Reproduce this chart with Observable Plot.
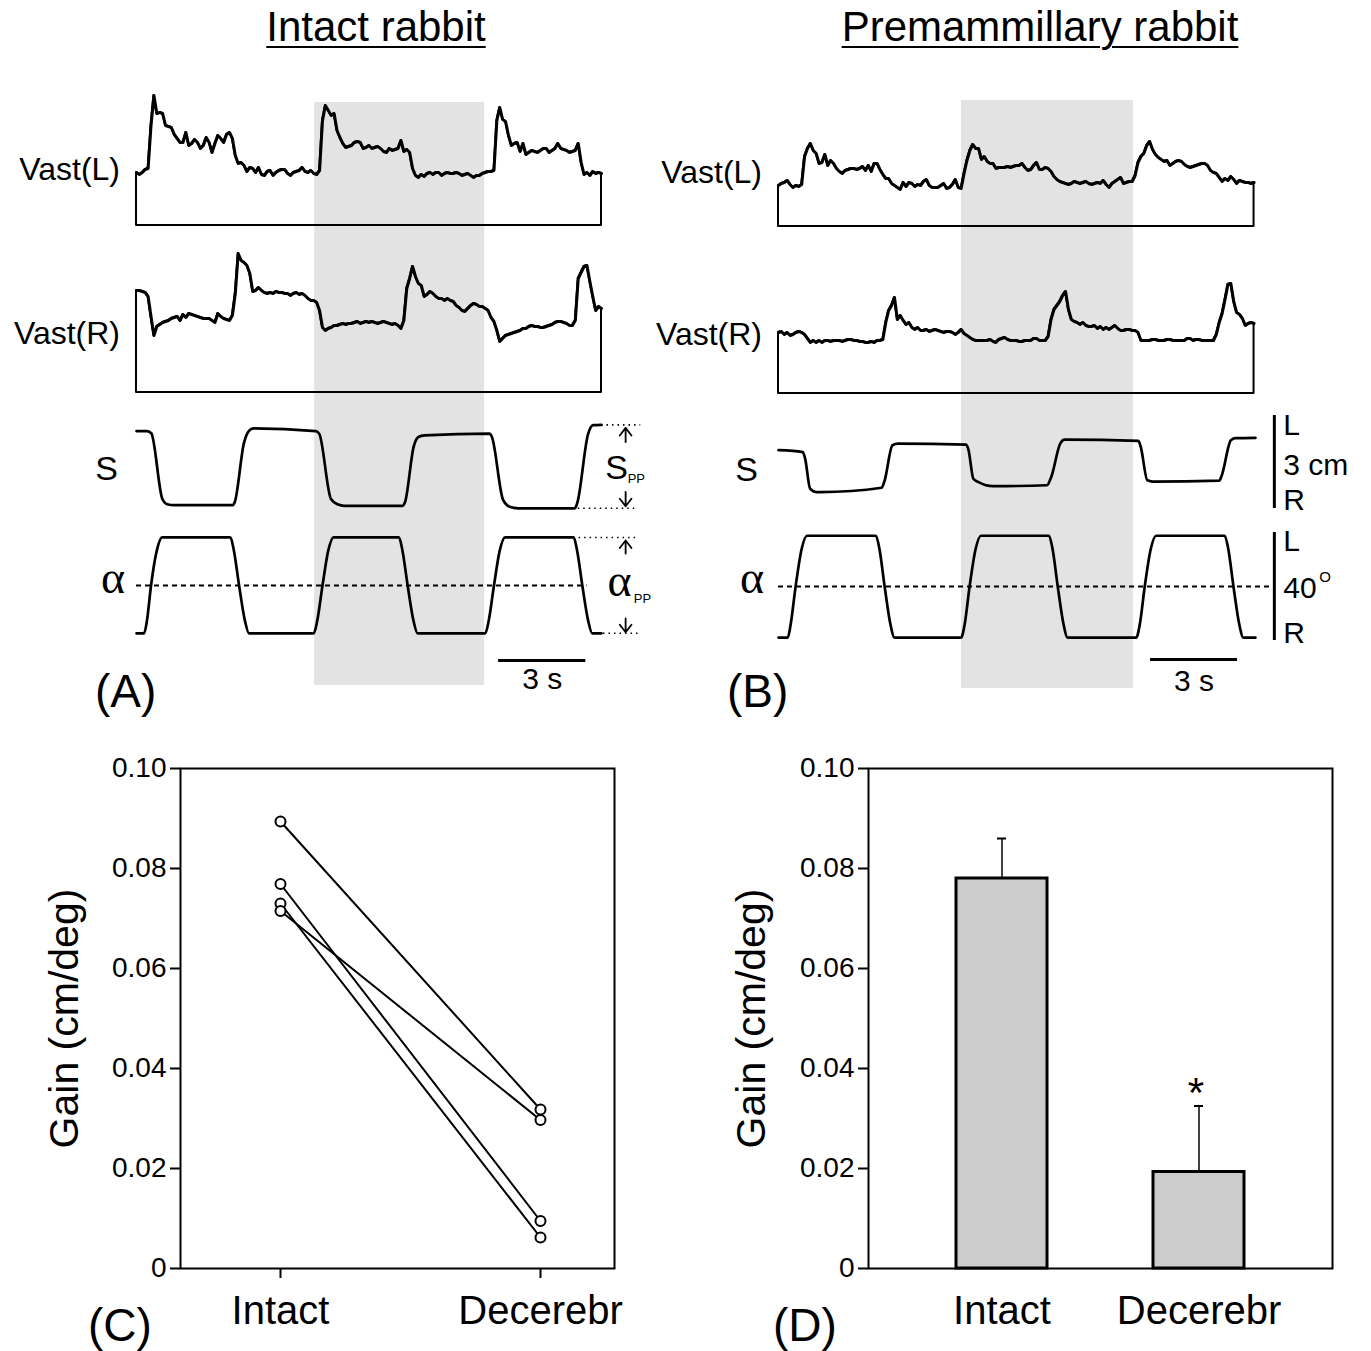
<!DOCTYPE html>
<html>
<head>
<meta charset="utf-8">
<script src="https://cdn.jsdelivr.net/npm/d3@7"></script>
<script src="https://cdn.jsdelivr.net/npm/@observablehq/plot@0.6"></script>
<style>
html, body { margin: 0; padding: 0; background: #fff; }
#fig { position: relative; width: 1371px; height: 1351px; background: #fff; overflow: hidden;
       font-family: "Liberation Sans", Arial, sans-serif; }
#fig svg { position: absolute; overflow: visible; }
.lbl { position: absolute; line-height: 1; white-space: nowrap; color: #000; }
.pcd g[aria-label^="x-axis"] text { font-size: 40px; }
.pcd g[aria-label$="axis tick"], .pcd g[aria-label$="axis tick"] path { stroke-width: 2px; }
.pcd g[aria-label^="y-axis"] line, .pcd g[aria-label^="x-axis"] line { stroke-width: 2px; }
</style>
</head>
<body>
<div id="fig"></div>
<script>
// ---------------- DATA ----------------
const sampleInterval = 0.1; // s between EMG samples

// Panel A (intact rabbit) — EMG envelopes (arbitrary units), one sample every 0.1 s
const vastL_A = [53,51,53,56,57,100,130,112,113,112, 100,99,98,91,87,83,83,93,80,82,
  86,83,77,80,88,83,73,82,90,87, 83,91,93,87,70,62,63,60,54,58,
  57,53,58,51,50,54,55,50,53,55, 56,56,52,50,53,54,55,58,54,53,
  55,52,51,55,105,120,115,110,112,95, 88,82,78,79,80,83,84,83,77,78,
  80,77,78,79,77,74,73,77,75,76, 77,85,74,76,73,57,50,48,51,49,
  52,53,51,53,53,50,52,53,52,52, 53,52,50,51,52,50,48,50,50,52,
  53,54,54,55,105,118,106,104,90,80, 82,83,74,82,71,73,75,74,73,75,
  77,77,73,75,77,82,77,76,75,73, 74,75,82,63,51,53,50,54,52,53, 52];
const vastR_A = [102,102,101,100,96,76,57,66,68,70, 71,72,74,75,76,72,78,75,79,78,
  77,76,75,74,74,74,72,70,79,76, 74,73,72,77,99,139,132,130,127,119,
  101,102,105,102,100,99,100,99,101,100, 100,99,99,97,99,100,98,99,97,94,
  92,92,90,82,65,62,64,65,67,67, 68,69,68,69,69,70,71,69,70,71,
  70,71,70,69,70,71,70,69,68,69, 67,64,72,104,114,126,116,109,107,96,
  98,101,99,96,94,94,92,94,92,91, 87,85,82,81,84,87,89,88,86,86,
  84,82,75,71,62,51,54,57,58,59, 60,61,62,64,64,66,67,66,66,65,
  65,66,67,68,70,71,71,70,69,67, 67,72,114,120,126,127,111,96,82,86, 84];
// Panel A — platform displacement S (cm) and tilt alpha (deg), breakpoints
const sA_time = [0,0.37,0.51,0.89,1.06,1.29,3.30,3.38,3.70,3.87,4.02,6.17,6.29,6.69,6.92,7.15,
  9.16,9.24,9.54,9.70,9.91,12.15,12.23,12.61,12.84,13.13,15.08,15.16,15.54,15.71,16.0];
const sA_cm = [1.19,1.19,1.12,-1.0,-1.17,-1.20,-1.20,-1.1,0.82,1.2,1.28,1.19,1.1,-1.0,-1.17,-1.22,
  -1.22,-1.1,0.7,1.0,1.05,1.11,1.0,-1.02,-1.25,-1.30,-1.30,-1.15,1.1,1.38,1.39];
const alphaA_time = [0,0.26,0.36,0.50,0.70,0.88,3.23,3.35,3.53,3.73,3.87,6.10,6.22,6.40,6.60,6.78,
  9.03,9.15,9.33,9.53,9.67,12.00,12.12,12.30,12.50,12.68,15.04,15.16,15.34,15.54,15.68,16.0];
const alphaA_deg = [-17.7,-17.7,-13,0,13,17.8,17.8,13,0,-13,-17.7,-17.7,-13,0,13,17.8,
  17.8,13,0,-13,-17.7,-17.7,-13,0,13,17.8,17.8,13,0,-13,-17.7,-17.7];

// Panel B (premammillary rabbit), one sample every 0.1 s
const vastL_B = [41,43,44,46,42,39,41,40,42,70, 78,83,76,73,63,64,72,61,66,63,
  58,55,53,56,57,58,58,57,58,60, 56,61,55,63,63,57,52,48,48,43,
  41,39,37,44,40,44,43,40,42,41, 45,47,41,39,39,39,41,43,38,39,
  42,47,39,38,53,66,76,82,78,78, 67,70,65,63,63,58,59,59,59,60,
  59,60,61,61,63,59,56,57,61,64, 57,57,59,58,55,50,47,45,44,43,
  42,43,45,44,43,44,45,43,42,43, 44,43,46,42,39,43,45,47,49,43,
  44,45,45,51,64,70,73,81,85,77, 72,69,67,65,66,61,63,65,66,65,
  62,60,59,60,61,62,63,63,61,56, 54,53,49,45,48,46,50,47,43,46,
  45,44,44,43,44];
const vastR_B = [61,62,59,61,58,59,61,62,61,59, 55,51,53,51,53,51,53,53,52,53,
  53,53,52,53,54,54,53,53,52,52, 51,51,52,51,53,53,54,71,83,88,
  96,74,78,73,69,71,66,64,66,63, 63,64,62,63,64,63,62,61,62,62,
  61,59,61,64,60,58,56,54,53,53, 53,53,53,54,52,51,54,55,56,54,
  53,53,53,52,52,53,53,53,55,55, 53,53,53,57,74,84,88,92,98,102,
  84,74,72,71,69,71,68,67,67,68, 65,67,64,66,64,66,68,65,63,63,
  64,64,63,63,61,53,53,53,53,54, 54,53,53,53,54,54,53,53,53,53,
  53,55,55,53,54,54,53,53,53,53, 53,59,71,80,94,109,110,92,81,79,
  75,68,70,71,70];
const sB_time = [0,0.84,0.92,1.09,1.30,1.46,3.56,3.66,3.93,4.12,6.47,6.55,6.72,6.90,7.40,
  9.26,9.40,9.72,9.87,12.41,12.49,12.72,12.90,15.20,15.28,15.60,15.75,16.45];
const sB_cm = [0.38,0.32,0.1,-0.86,-0.97,-0.97,-0.83,-0.6,0.54,0.59,0.56,0.4,-0.54,-0.65,-0.78,
  -0.75,-0.5,0.6,0.72,0.68,0.5,-0.59,-0.63,-0.60,-0.45,0.7,0.77,0.78];
const alphaB_time = [0,0.32,0.42,0.59,0.80,0.98,3.36,3.48,3.66,3.86,4.00,6.30,6.42,6.59,6.80,6.98,
  9.33,9.45,9.63,9.83,9.97,12.34,12.46,12.63,12.84,13.02,15.39,15.51,15.69,15.89,16.03,16.45];
const alphaB_deg = [-18.9,-18.9,-14,0,14,18.8,18.8,14,0,-14,-18.9,-18.9,-14,0,14,18.8,
  18.8,14,0,-14,-18.9,-18.9,-14,0,14,18.8,18.8,14,0,-14,-18.9,-18.9];

const stimBandA = [6.13, 11.98];   // s, shaded period
const stimBandB = [6.31, 12.24];
const timeScaleSec = 3;            // "3 s" bar
const sScaleCm = 3;                // "3 cm" bar
const alphaScaleDeg = 40;          // "40°" bar

// Panels C and D — gain (cm/deg)
const conditions = ["Intact", "Decerebr"];
const gainIntact   = [0.0894, 0.0769, 0.0730, 0.0715];
const gainDecerebr = [0.0318, 0.0095, 0.0062, 0.0297];
const barMeans = [0.078, 0.0193];
const barSEM   = [0.008, 0.0132];
const significant = [false, true];
const yTicks = [0, 0.02, 0.04, 0.06, 0.08, 0.10];
const yLabel = "Gain (cm/deg)";

// ---------------- HELPERS ----------------
const fig = document.getElementById("fig");
const SANS = "'Liberation Sans', Arial, sans-serif";
const SERIF = "'Liberation Serif', 'DejaVu Serif', serif";
const series = vals => vals.map((v, i) => ({t: i * sampleInterval, v}));
const zip = (ts, vs) => ts.map((t, i) => ({t, v: vs[i]}));

function rowPlot({L, R, T, B, xDomain, yDomain, marks, ml = 0, mr = 0, mt = 0, mb = 0}) {
  const chart = Plot.plot({
    width: R - L + ml + mr, height: B - T + mt + mb,
    marginLeft: ml, marginRight: mr, marginTop: mt, marginBottom: mb,
    x: {domain: xDomain, axis: null},
    y: {domain: yDomain, axis: null},
    style: `background: transparent; overflow: visible; font-family: ${SANS};`,
    marks
  });
  chart.style.left = (L - ml) + "px";
  chart.style.top = (T - mt) + "px";
  fig.appendChild(chart);
  return chart;
}

function label(text, x, y, {size = 32, anchor = "start", family = SANS, underline = false} = {}) {
  const d = document.createElement("div");
  d.className = "lbl";
  d.textContent = text;
  d.style.left = x + "px";
  d.style.top = y + "px";
  d.style.fontSize = size + "px";
  d.style.fontFamily = family;
  const tx = anchor === "start" ? "0" : anchor === "middle" ? "-50%" : "-100%";
  d.style.transform = `translate(${tx}, -50%)`;
  if (underline) {
    d.style.textDecoration = "underline";
    d.style.textDecorationThickness = "2px";
    d.style.textUnderlineOffset = "5px";
  }
  fig.appendChild(d);
}

const emgMarks = vals => [
  Plot.areaY(series(vals), {x: "t", y: "v", fill: "none", stroke: "black", strokeWidth: 2}),
  Plot.lineY(series(vals), {x: "t", y: "v", stroke: "black", strokeWidth: 3, strokeLinejoin: "round"})
];
const traceLine = data => Plot.line(data, {x: "t", y: "v", curve: "monotone-x", stroke: "black", strokeWidth: 2.7, strokeLinejoin: "round"});
const dotted = {stroke: "black", strokeWidth: 1.6, strokeDasharray: "1.5,4"};
const txt = (arr, opts) => Plot.text(arr, {text: d => d, ...opts});
const ppArrow = (x, yTip, insetStart, insetEnd) =>
  Plot.arrow([yTip], {x1: x, x2: x, y1: 0, y2: d => d, insetStart, insetEnd,
    headLength: 8, headAngle: 75, stroke: "black", strokeWidth: 1.8});

// ---------------- PANEL A ----------------
const A = {L: 136, R: 601, xDomain: [0, 16]};
rowPlot({...A, T: 102, B: 685, yDomain: [0, 1], marks: [
  Plot.rect([stimBandA], {x1: d => d[0], x2: d => d[1], y1: 0, y2: 1, fill: "#e3e3e3"})
]});
rowPlot({...A, T: 94, B: 225, yDomain: [0, 131], marks: emgMarks(vastL_A)});
rowPlot({...A, T: 251, B: 392, yDomain: [0, 141], marks: emgMarks(vastR_A)});
const sMaxA = d3.max(sA_cm), sMinA = d3.min(sA_cm);
rowPlot({...A, T: 420.5, B: 513.5, yDomain: [-1.5, 1.5], mr: 70, marks: [
  traceLine(zip(sA_time, sA_cm)),
  Plot.ruleY([sMaxA], {x1: 16.0, x2: 17.35, ...dotted}),
  Plot.ruleY([sMinA], {x1: 15.2, x2: 17.25, ...dotted}),
  ppArrow(16.83, sMaxA, 26, 3),
  ppArrow(16.83, sMinA, 24, 2),
  txt(["S"], {x: 16.52, y: 0, fontSize: 34}),
  txt(["PP"], {x: 17.2, y: 0, dy: 11, fontSize: 13})
]});
const aMaxA = d3.max(alphaA_deg), aMinA = d3.min(alphaA_deg);
rowPlot({...A, T: 531, B: 639, yDomain: [-20, 20], mr: 70, marks: [
  Plot.ruleY([0], {x1: 0, x2: 15.5, stroke: "black", strokeWidth: 2, strokeDasharray: "5,4"}),
  traceLine(zip(alphaA_time, alphaA_deg)),
  Plot.ruleY([aMaxA], {x1: 15.04, x2: 17.27, ...dotted}),
  Plot.ruleY([aMinA], {x1: 16.07, x2: 17.34, ...dotted}),
  ppArrow(16.83, aMaxA, 32, 3),
  ppArrow(16.83, aMinA, 33, 1),
  txt(["α"], {x: 16.62, y: 0, dy: -4, fontSize: 46, fontFamily: SERIF}),
  txt(["PP"], {x: 17.41, y: 0, dy: 13, fontSize: 13})
]});
rowPlot({...A, T: 660, B: 679, yDomain: [0, 1], marks: [
  Plot.ruleY([timeScaleSec], {x1: 12.46, x2: d => 12.46 + d, y: 1, stroke: "black", strokeWidth: 3}),
  Plot.text([timeScaleSec], {x: d => 12.46 + d / 2, y: 0, text: d => `${d} s`, fontSize: 30})
]});

// ---------------- PANEL B ----------------
const Bp = {L: 778, R: 1255, xDomain: [0, 16.45]};
rowPlot({...Bp, T: 100, B: 688, yDomain: [0, 1], marks: [
  Plot.rect([stimBandB], {x1: d => d[0], x2: d => d[1], y1: 0, y2: 1, fill: "#e3e3e3"})
]});
rowPlot({...Bp, T: 140, B: 226, yDomain: [0, 86], marks: emgMarks(vastL_B)});
rowPlot({...Bp, T: 281, B: 393, yDomain: [0, 112], marks: emgMarks(vastR_B)});
rowPlot({...Bp, T: 415.2, B: 508.2, yDomain: [-1.5, 1.5], mr: 110, marks: [
  traceLine(zip(sB_time, sB_cm)),
  Plot.ruleX([sScaleCm], {x: 17.1, y1: d => -d / 2, y2: d => d / 2, stroke: "black", strokeWidth: 3}),
  txt(["L"], {x: 17.41, y: 1.5, dy: 10, textAnchor: "start", fontSize: 30}),
  Plot.text([sScaleCm], {x: 17.41, y: 0, dy: 3, text: d => `${d} cm`, textAnchor: "start", fontSize: 30}),
  txt(["R"], {x: 17.41, y: -1.5, dy: -8, textAnchor: "start", fontSize: 30})
]});
rowPlot({...Bp, T: 532, B: 640, yDomain: [-20, 20], mr: 110, marks: [
  Plot.ruleY([0], {x1: 0, x2: 16.95, stroke: "black", strokeWidth: 2, strokeDasharray: "5,4"}),
  traceLine(zip(alphaB_time, alphaB_deg)),
  Plot.ruleX([alphaScaleDeg], {x: 17.1, y1: d => -d / 2, y2: d => d / 2, stroke: "black", strokeWidth: 3}),
  txt(["L"], {x: 17.41, y: 20, dy: 9, textAnchor: "start", fontSize: 30}),
  Plot.text([alphaScaleDeg], {x: 17.41, y: 0, dy: 2, text: d => `${d}`, textAnchor: "start", fontSize: 30}),
  txt(["O"], {x: 17.41, y: 0, dx: 36, dy: -9, textAnchor: "start", fontSize: 15}),
  txt(["R"], {x: 17.41, y: -20, dy: -7, textAnchor: "start", fontSize: 30})
]});
rowPlot({...Bp, T: 659, B: 681, yDomain: [0, 1], marks: [
  Plot.ruleY([timeScaleSec], {x1: 12.83, x2: d => 12.83 + d, y: 1, stroke: "black", strokeWidth: 3}),
  Plot.text([timeScaleSec], {x: d => 12.83 + d / 2, y: 0, text: d => `${d} s`, fontSize: 30})
]});

// ---------------- PANEL C ----------------
const yFmt = d => d === 0 ? "0" : d.toFixed(2);
const lineData = gainIntact.flatMap((g, i) => [
  {animal: i, cond: conditions[0], gain: g},
  {animal: i, cond: conditions[1], gain: gainDecerebr[i]}
]);
const panelStyle = `background: transparent; overflow: visible; font-family: ${SANS}; font-size: 28px;`;
const cChart = Plot.plot({
  width: 584, height: 590, marginLeft: 130, marginRight: 20, marginTop: 20, marginBottom: 70,
  style: panelStyle,
  x: {type: "point", domain: conditions, padding: 0.3346, align: 0.575, tickSize: 10, tickPadding: 17, label: null},
  y: {domain: [0, 0.1], ticks: yTicks, tickFormat: yFmt, tickSize: 10, tickPadding: 4, label: null},
  marks: [
    Plot.frame({stroke: "black", strokeWidth: 2}),
    Plot.line(lineData, {x: "cond", y: "gain", z: "animal", stroke: "black", strokeWidth: 2}),
    Plot.dot(lineData, {x: "cond", y: "gain", r: 5, stroke: "black", fill: "white", strokeWidth: 2}),
    txt([yLabel], {frameAnchor: "left", textAnchor: "middle", dx: -116, rotate: -90, fontSize: 41})
  ]
});
cChart.classList.add("pcd");
cChart.style.left = "50px"; cChart.style.top = "748px";
fig.appendChild(cChart);

// ---------------- PANEL D ----------------
const bars = conditions.map((c, i) => ({cond: c, mean: barMeans[i], sem: barSEM[i], sig: significant[i]}));
const dChart = Plot.plot({
  width: 614, height: 590, marginLeft: 130, marginRight: 20, marginTop: 20, marginBottom: 70,
  style: panelStyle,
  x: {type: "band", domain: conditions, paddingInner: 0.538, paddingOuter: 0.4465, align: 0.5, tickSize: 0, tickPadding: 27, label: null},
  y: {domain: [0, 0.1], ticks: yTicks, tickFormat: yFmt, tickSize: 10, tickPadding: 4, label: null},
  marks: [
    Plot.ruleX(bars, {x: "cond", y1: "mean", y2: d => d.mean + d.sem, stroke: "black", strokeWidth: 1.5}),
    Plot.tickY(bars, {x: "cond", y: d => d.mean + d.sem, insetLeft: 41, insetRight: 41, stroke: "black", strokeWidth: 2}),
    Plot.barY(bars, {x: "cond", y: "mean", fill: "#cccccc", stroke: "black", strokeWidth: 3}),
    Plot.frame({stroke: "black", strokeWidth: 2}),
    Plot.text(bars.filter(d => d.sig), {x: "cond", y: d => d.mean + d.sem, text: () => "*", dx: -3, dy: -12, fontSize: 42}),
    txt([yLabel], {frameAnchor: "left", textAnchor: "middle", dx: -117, rotate: -90, fontSize: 41})
  ]
});
dChart.classList.add("pcd");
dChart.style.left = "738px"; dChart.style.top = "748px";
fig.appendChild(dChart);

// ---------------- TEXT LABELS ----------------
label("Intact rabbit", 376, 27, {size: 42, anchor: "middle", underline: true});
label("Premammillary rabbit", 1040, 27, {size: 42, anchor: "middle", underline: true});
label("Vast(L)", 120, 169, {anchor: "end"});
label("Vast(R)", 120, 333, {anchor: "end"});
label("S", 118, 468, {size: 34, anchor: "end"});
label("α", 125, 578, {size: 46, anchor: "end", family: SERIF});
label("Vast(L)", 762, 172, {anchor: "end"});
label("Vast(R)", 762, 334, {anchor: "end"});
label("S", 758, 469, {size: 34, anchor: "end"});
label("α", 764, 578, {size: 46, anchor: "end", family: SERIF});
label("(A)", 95, 691, {size: 46});
label("(B)", 727, 691, {size: 46});
label("(C)", 88, 1325, {size: 46});
label("(D)", 773, 1325, {size: 46});
</script>
</body>
</html>
